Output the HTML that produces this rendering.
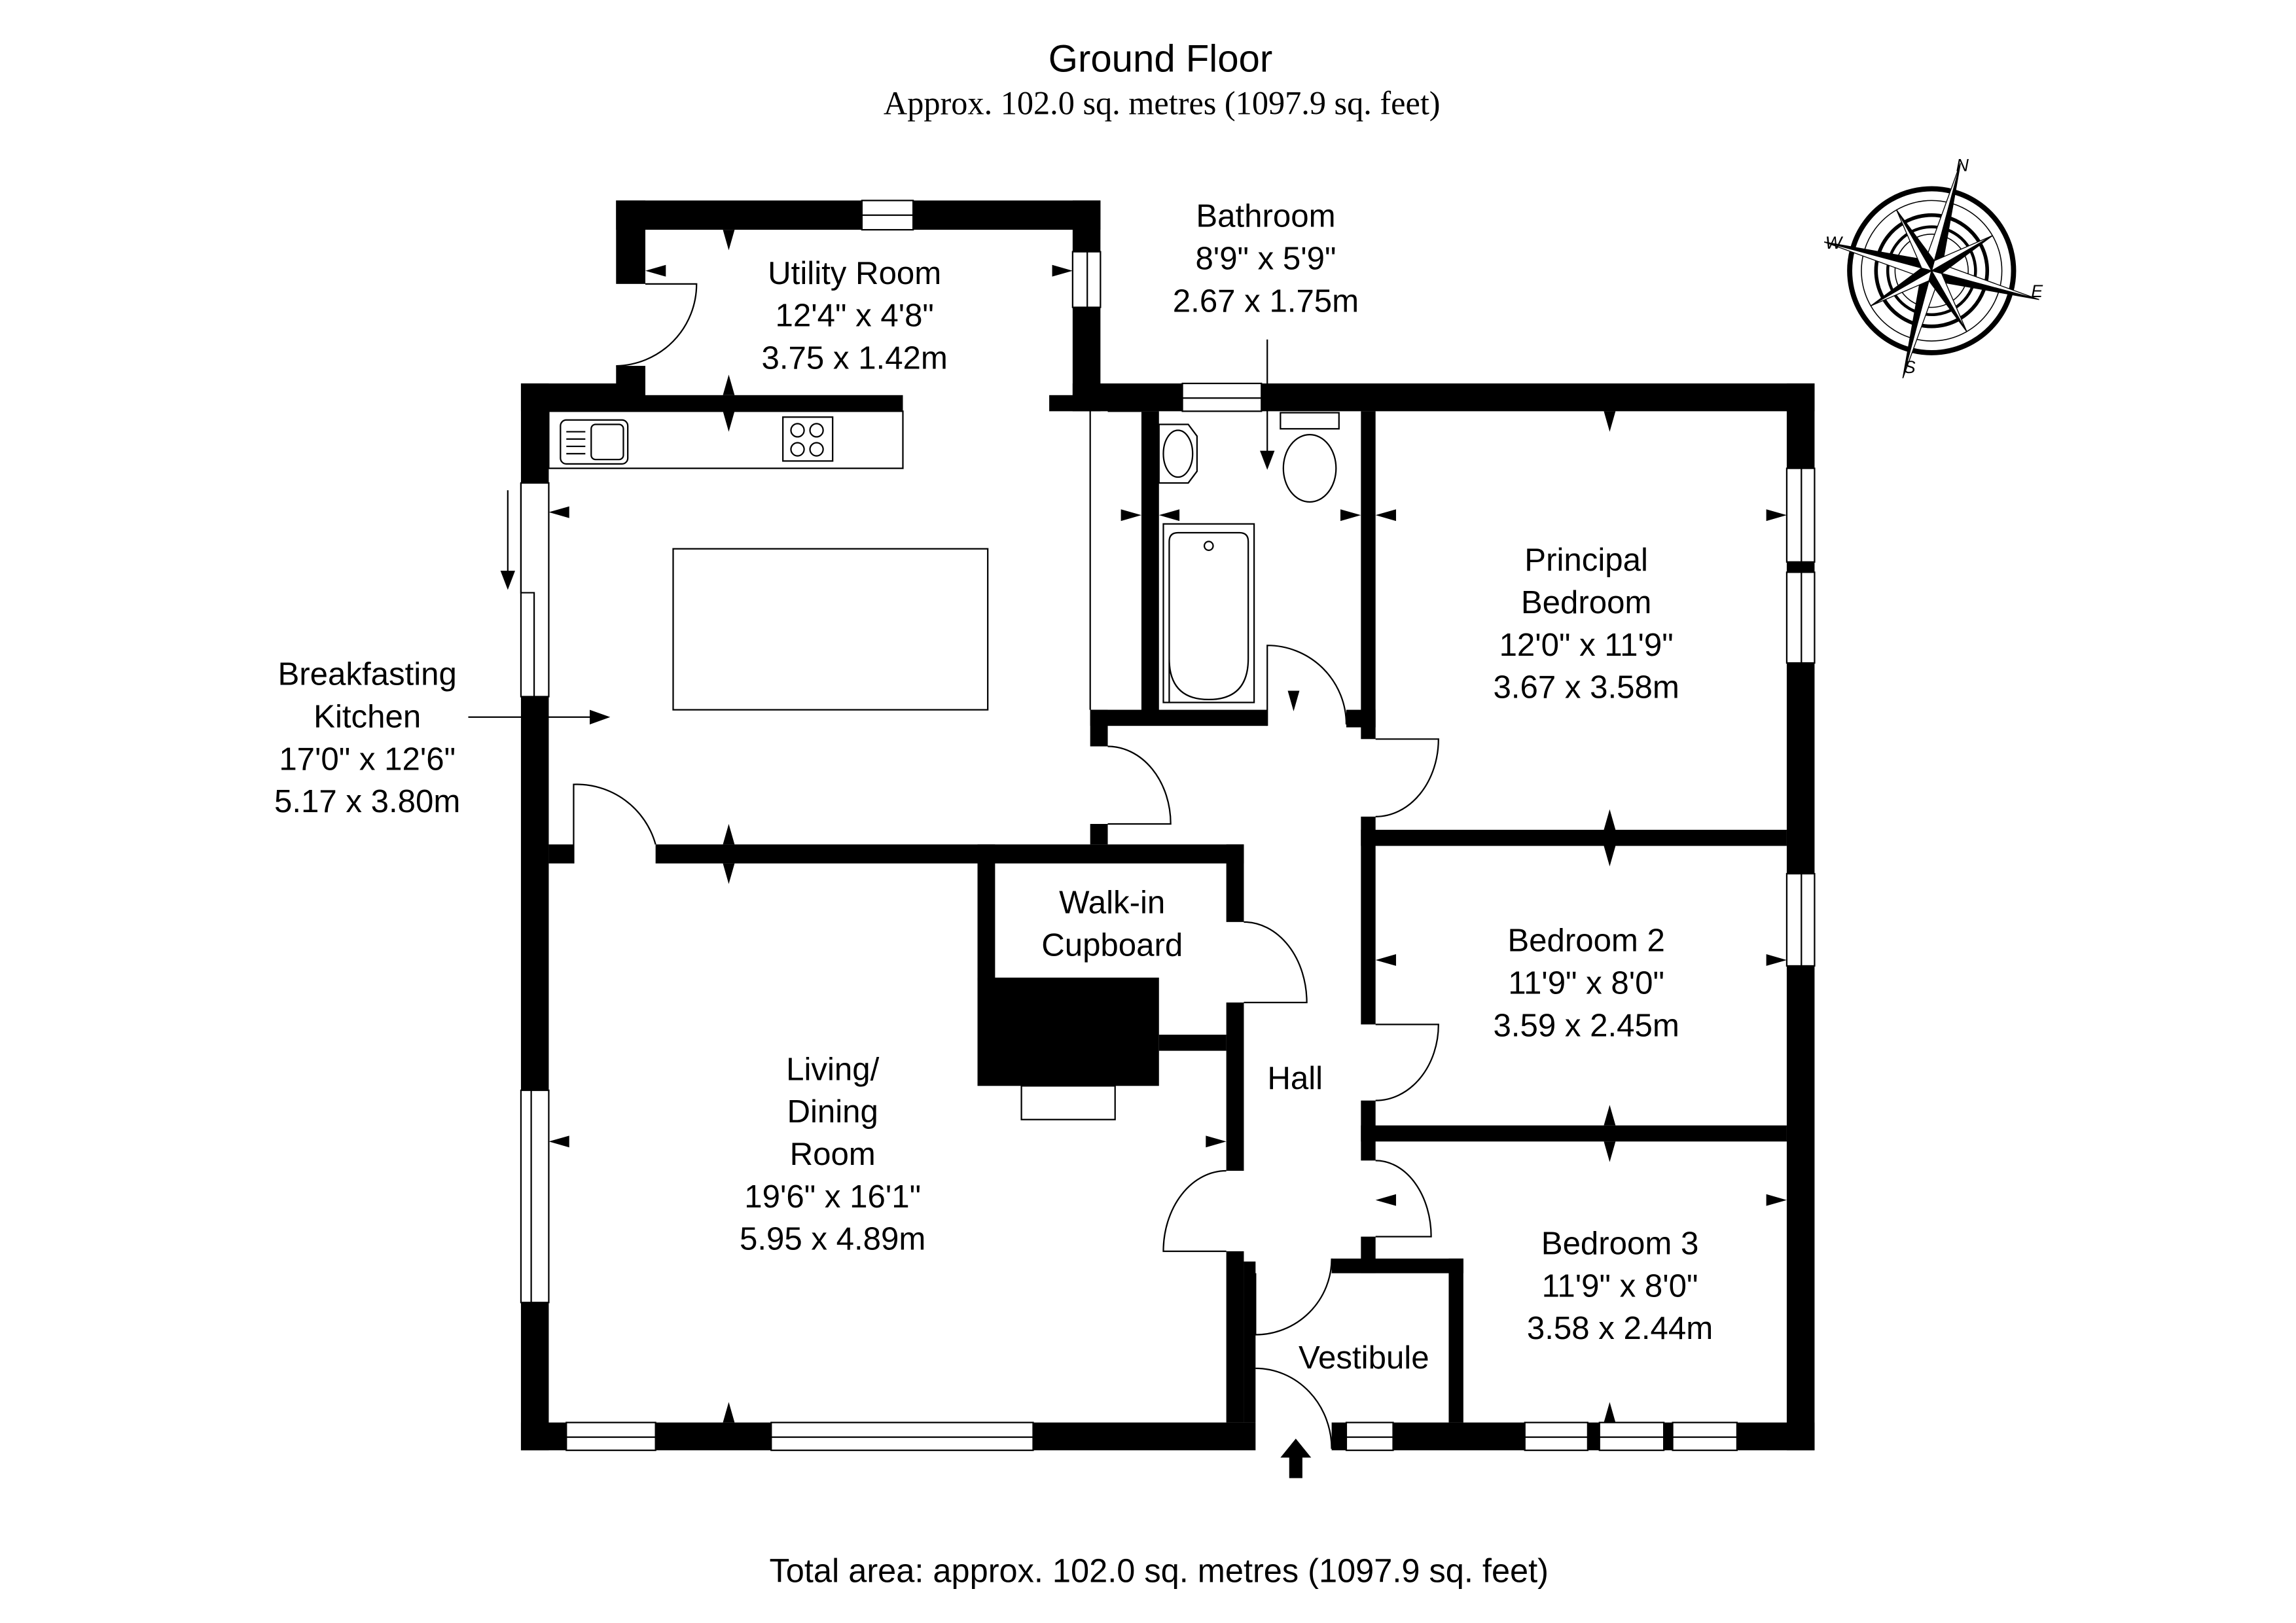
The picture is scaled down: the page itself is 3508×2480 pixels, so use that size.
<!DOCTYPE html>
<html><head><meta charset="utf-8"><style>
html,body{margin:0;padding:0;background:#fff;}
svg{display:block;}
text{font-family:"Liberation Sans",sans-serif;fill:#000;}
</style></head><body>
<svg width="3508" height="2480" viewBox="0 0 1569 1109" preserveAspectRatio="none" xmlns="http://www.w3.org/2000/svg">
<rect width="1569" height="1109" fill="#fff"/>
<!-- titles -->
<text x="793" y="49" font-size="26" text-anchor="middle">Ground Floor</text>
<text x="794" y="78" font-size="22.5" text-anchor="middle" style="font-family:'Liberation Serif',serif">Approx. 102.0 sq. metres (1097.9 sq. feet)</text>
<text x="792" y="1081" font-size="22.6" text-anchor="middle">Total area: approx. 102.0 sq. metres (1097.9 sq. feet)</text>

<g fill="#000">
<rect x="421" y="137" width="331" height="20"/>
<rect x="421" y="137" width="20" height="57"/>
<rect x="421" y="250" width="20" height="20"/>
<rect x="733" y="137" width="19" height="144"/>
<rect x="356" y="262" width="85" height="19"/>
<rect x="441" y="270" width="176" height="11"/>
<rect x="717" y="270" width="35" height="11"/>
<rect x="733" y="262" width="507" height="19"/>
<rect x="1221" y="262" width="19" height="729"/>
<rect x="356" y="972" width="502" height="19"/>
<rect x="910" y="972" width="330" height="19"/>
<rect x="356" y="262" width="19" height="729"/>
<rect x="375" y="577" width="17" height="13"/>
<rect x="448" y="577" width="402" height="13"/>
<rect x="745" y="563" width="12" height="14"/>
<rect x="780" y="281" width="12" height="214"/>
<rect x="745" y="485" width="121" height="11"/>
<rect x="745" y="485" width="12" height="25"/>
<rect x="920" y="485" width="20" height="12"/>
<rect x="930" y="281" width="10" height="224"/>
<rect x="930" y="558" width="10" height="142"/>
<rect x="930" y="567" width="291" height="11"/>
<rect x="930" y="752" width="10" height="41"/>
<rect x="930" y="769" width="291" height="11"/>
<rect x="930" y="845" width="10" height="25"/>
<rect x="910" y="860" width="90" height="10"/>
<rect x="990" y="860" width="10" height="112"/>
<rect x="668" y="577" width="12" height="93"/>
<rect x="838" y="577" width="12" height="53"/>
<rect x="838" y="685" width="12" height="115"/>
<rect x="668" y="668" width="124" height="74"/>
<rect x="792" y="707" width="46" height="11"/>
<rect x="838" y="855" width="12" height="117"/>
<rect x="850" y="862" width="8" height="110"/>
<rect x="881" y="995" width="9" height="15"/>
<polygon points="875,996 896,996 885.5,983"/>
</g>

<g fill="#fff" stroke="#000" stroke-width="1">
<rect x="589" y="137" width="35" height="20"/><line x1="589" y1="147" x2="624" y2="147"/>
<rect x="733" y="172" width="19" height="38"/><line x1="743" y1="172" x2="743" y2="210"/>
<rect x="808" y="262" width="54" height="19"/><line x1="808" y1="272" x2="862" y2="272"/>
<rect x="1221" y="320" width="19" height="64"/><line x1="1231" y1="320" x2="1231" y2="384"/>
<rect x="1221" y="391" width="19" height="62"/><line x1="1231" y1="391" x2="1231" y2="453"/>
<rect x="1221" y="597" width="19" height="63"/><line x1="1231" y1="597" x2="1231" y2="660"/>
<rect x="387" y="972" width="61" height="19"/><line x1="387" y1="982" x2="448" y2="982"/>
<rect x="527" y="972" width="179" height="19"/><line x1="527" y1="982" x2="706" y2="982"/>
<rect x="920" y="972" width="32" height="19"/><line x1="920" y1="982" x2="952" y2="982"/>
<rect x="1042" y="972" width="43" height="19"/><line x1="1042" y1="982" x2="1085" y2="982"/>
<rect x="1093" y="972" width="44" height="19"/><line x1="1093" y1="982" x2="1137" y2="982"/>
<rect x="1143" y="972" width="44" height="19"/><line x1="1143" y1="982" x2="1187" y2="982"/>
<rect x="356" y="745" width="19" height="145"/><line x1="363" y1="745" x2="363" y2="890"/>
<rect x="356" y="330" width="19" height="146"/>
<polyline points="356,330 356,405 365,405 365,476" fill="none"/>
<line x1="745" y1="281" x2="745" y2="485"/>
<line x1="757" y1="281" x2="780" y2="281"/>
<rect x="375" y="281" width="242" height="39"/>
<rect x="383" y="287" width="46" height="30" rx="4"/>
<rect x="404" y="290" width="22" height="24" rx="3"/>
<line x1="387" y1="295" x2="400" y2="295"/><line x1="387" y1="300" x2="400" y2="300"/><line x1="387" y1="305" x2="400" y2="305"/><line x1="387" y1="310" x2="400" y2="310"/>
<rect x="535" y="285" width="34" height="30"/>
<circle cx="545" cy="294" r="4.5"/><circle cx="558" cy="294" r="4.5"/><circle cx="545" cy="307" r="4.5"/><circle cx="558" cy="307" r="4.5"/>
<rect x="460" y="375" width="215" height="110"/>
<path d="M792,290 L812,290 L818,298 L818,322 L812,330 L792,330 Z"/>
<ellipse cx="805" cy="310" rx="10" ry="16"/>
<rect x="875" y="282" width="40" height="11"/>
<ellipse cx="895" cy="320" rx="18" ry="23"/>
<rect x="795" y="358" width="62" height="122"/>
<path d="M799,480 L799,370 Q799,364 805,364 L847,364 Q853,364 853,370 L853,450 Q853,478 826,478 Q799,478 799,450"/>
<circle cx="826" cy="373" r="3"/>
<rect x="698" y="742" width="64" height="23"/>
</g>

<g fill="none" stroke="#000" stroke-width="1">
<path d="M441,194 L476,194 A56,56 0 0 1 421,250"/>
<path d="M392,590 L392,536 A56,56 0 0 1 448,577"/>
<path d="M757,510 A43,53 0 0 1 800,563 L757,563"/>
<path d="M866,496 L866,441 A54,54 0 0 1 920,495"/>
<path d="M940,505 L983,505 A43,53 0 0 1 940,558"/>
<path d="M850,630 A43,55 0 0 1 893,685 L850,685"/>
<path d="M940,700 L983,700 A43,52 0 0 1 940,752"/>
<path d="M838,800 A43,55 0 0 0 795,855 L838,855"/>
<path d="M940,793 A38,52 0 0 1 978,845 L940,845"/>
<path d="M910,860 A52,52 0 0 1 858,912 L858,870"/>
<path d="M858,935 A52,55 0 0 1 910,990"/>
<line x1="866" y1="232" x2="866" y2="310"/>
<line x1="320" y1="490" x2="405" y2="490"/>
<line x1="347" y1="335" x2="347" y2="395"/>
</g>
<g fill="#000">
<polygon points="861,308 871,308 866,321"/>
<polygon points="403,485 403,495 417,490"/>
<polygon points="342,390 352,390 347,403"/>
</g>

<g fill="#000">
<polygon points="494,157 502,157 498,171"/><polygon points="494,270 502,270 498,256"/><polygon points="494,281 502,281 498,295"/>
<polygon points="441,185 455,181 455,189"/><polygon points="733,185 719,181 719,189"/>
<polygon points="375,350 389,346 389,354"/><polygon points="780,352 766,348 766,356"/><polygon points="792,352 806,348 806,356"/>
<polygon points="930,352 916,348 916,356"/><polygon points="940,352 954,348 954,356"/>
<polygon points="1221,352 1207,348 1207,356"/>
<polygon points="494,577 502,577 498,563"/><polygon points="494,590 502,590 498,604"/>
<polygon points="1096,281 1104,281 1100,295"/><polygon points="1096,567 1104,567 1100,553"/><polygon points="1096,578 1104,578 1100,592"/>
<polygon points="940,656 954,652 954,660"/><polygon points="1221,656 1207,652 1207,660"/>
<polygon points="1096,769 1104,769 1100,755"/><polygon points="1096,780 1104,780 1100,794"/>
<polygon points="940,820 954,816 954,824"/><polygon points="1221,820 1207,816 1207,824"/>
<polygon points="1096,972 1104,972 1100,958"/>
<polygon points="375,780 389,776 389,784"/><polygon points="838,780 824,776 824,784"/>
<polygon points="494,972 502,972 498,958"/>
<polygon points="880,472 888,472 884,486"/>
</g>

<g font-size="22" text-anchor="middle">
<text x="584" y="194">Utility Room</text><text x="584" y="223">12'4" x 4'8"</text><text x="584" y="252">3.75 x 1.42m</text>
<text x="865" y="155">Bathroom</text><text x="865" y="184">8'9" x 5'9"</text><text x="865" y="213">2.67 x 1.75m</text>
<text x="251" y="468">Breakfasting</text><text x="251" y="497">Kitchen</text><text x="251" y="526">17'0" x 12'6"</text><text x="251" y="555">5.17 x 3.80m</text>
<text x="1084" y="390">Principal</text><text x="1084" y="419">Bedroom</text><text x="1084" y="448">12'0" x 11'9"</text><text x="1084" y="477">3.67 x 3.58m</text>
<text x="760" y="624">Walk-in</text><text x="760" y="653">Cupboard</text>
<text x="1084" y="650">Bedroom 2</text><text x="1084" y="679">11'9" x 8'0"</text><text x="1084" y="708">3.59 x 2.45m</text>
<text x="885" y="744">Hall</text>
<text x="569" y="738">Living/</text><text x="569" y="767">Dining</text><text x="569" y="796">Room</text><text x="569" y="825">19'6" x 16'1"</text><text x="569" y="854">5.95 x 4.89m</text>
<text x="1107" y="857">Bedroom 3</text><text x="1107" y="886">11'9" x 8'0"</text><text x="1107" y="915">3.58 x 2.44m</text>
<text x="932" y="935">Vestibule</text>
</g>

<g transform="translate(1320,185) rotate(15)">
<circle r="56" fill="none" stroke="#000" stroke-width="3.5"/>
<circle r="48" fill="none" stroke="#000" stroke-width="0.7"/>
<circle r="38" fill="none" stroke="#000" stroke-width="2.5"/>
<circle r="30" fill="none" stroke="#000" stroke-width="2"/>
<circle r="25" fill="none" stroke="#000" stroke-width="0.7"/>
<g stroke="#000" stroke-width="0.6">
<polygon points="0,-76 6,-6 0,0" fill="#000"/><polygon points="0,-76 -6,-6 0,0" fill="#fff"/>
<polygon points="0,76 -6,6 0,0" fill="#000"/><polygon points="0,76 6,6 0,0" fill="#fff"/>
<polygon points="76,0 6,6 0,0" fill="#000"/><polygon points="76,0 6,-6 0,0" fill="#fff"/>
<polygon points="-76,0 -6,-6 0,0" fill="#000"/><polygon points="-76,0 -6,6 0,0" fill="#fff"/>
<g transform="rotate(45)">
<polygon points="0,-48 5,-5 0,0" fill="#000"/><polygon points="0,-48 -5,-5 0,0" fill="#fff"/>
<polygon points="0,48 -5,5 0,0" fill="#000"/><polygon points="0,48 5,5 0,0" fill="#fff"/>
<polygon points="48,0 5,5 0,0" fill="#000"/><polygon points="48,0 5,-5 0,0" fill="#fff"/>
<polygon points="-48,0 -5,-5 0,0" fill="#000"/><polygon points="-48,0 -5,5 0,0" fill="#fff"/>
</g>
</g>
</g>
<g font-size="12" font-style="italic" style="font-family:'Liberation Serif',serif" text-anchor="middle">
<text x="1341" y="117">N</text><text x="1305" y="255">S</text><text x="1392" y="203">E</text><text x="1253" y="170">W</text>
</g>
</svg>
</body></html>
